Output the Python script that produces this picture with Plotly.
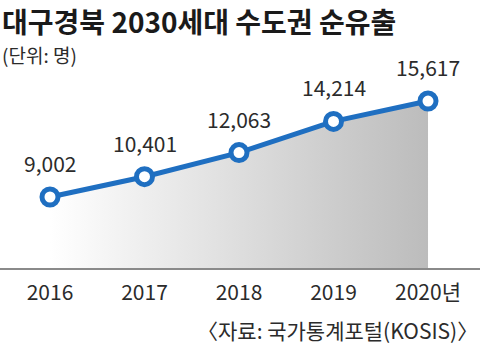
import plotly.graph_objects as go

years = [2016, 2017, 2018, 2019, 2020]
tick_labels = ["2016", "2017", "2018", "2019", "2020년"]
net_outflow = [9002, 10401, 12063, 14214, 15617]

title_text = "대구경북 2030세대 수도권 순유출"
unit_text = "(단위: 명)"
source_text = "〈자료: 국가통계포털(KOSIS)〉"

FONT = "Noto Sans CJK KR"
TEXT = "#2b2b2b"
BLUE = "#1f6fc1"

fig = go.Figure()

# gradient area under the line
fig.add_trace(go.Scatter(
    x=years, y=net_outflow, mode="none", fill="tozeroy",
    fillgradient=dict(type="horizontal",
                      colorscale=[[0, "rgba(255,255,255,1)"], [1, "#bcbcbc"]]),
    hoverinfo="skip", showlegend=False,
))

# line + ring markers
fig.add_trace(go.Scatter(
    x=years, y=net_outflow, mode="lines+markers",
    line=dict(color=BLUE, width=5),
    marker=dict(symbol="circle", size=16, color="white",
                line=dict(color=BLUE, width=5)),
    showlegend=False, cliponaxis=False,
))

# value labels
for x, v in zip(years, net_outflow):
    fig.add_annotation(x=x, y=v, text=f"{v:,}", showarrow=False,
                       yshift=34, yanchor="middle",
                       font=dict(family=FONT, size=21, color=TEXT))

fig.add_annotation(xref="paper", yref="paper", x=0.0, y=1.0, xanchor="left",
                   yanchor="top", yshift=0, xshift=1, borderpad=0,
                   text=f"<b>{title_text}</b>",
                   showarrow=False, font=dict(family=FONT, size=28, color="#1a1a1a"))
fig.add_annotation(xref="paper", yref="paper", x=0.0, y=1.0, xanchor="left",
                   yanchor="middle", yshift=-54, xshift=1, borderpad=0, text=unit_text,
                   showarrow=False, font=dict(family=FONT, size=19, color=TEXT))
fig.add_annotation(xref="paper", yref="paper", x=1.0, y=0.0, xanchor="right",
                   yanchor="middle", yshift=-62, xshift=0, text=source_text,
                   showarrow=False, font=dict(family=FONT, size=21, color=TEXT))

fig.update_layout(
    width=480, height=347,
    margin=dict(l=0, r=0, t=0, b=79),
    paper_bgcolor="white", plot_bgcolor="white",
    xaxis=dict(range=[2015.471, 2020.55], tickvals=years, ticktext=tick_labels,
               showgrid=False, zeroline=False, showline=True, linecolor="#8a8a8a",
               linewidth=2, ticks="", ticklabelstandoff=5,
               tickfont=dict(family=FONT, size=21, color=TEXT),
               fixedrange=True),
    yaxis=dict(range=[4109, 22579], visible=False, showgrid=False, fixedrange=True),
)

fig.write_html("out.html")
